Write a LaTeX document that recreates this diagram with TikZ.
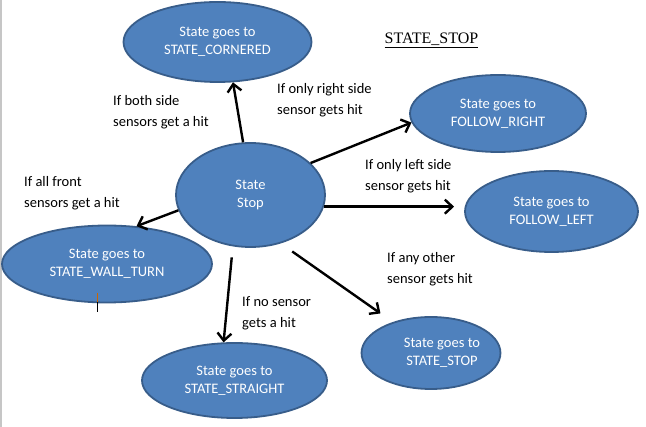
\documentclass[tikz,border=0pt]{standalone}
\usepackage{fontspec}
\setmainfont{Carlito}
\newfontfamily\titlefont{Liberation Serif}
\usetikzlibrary{shapes.geometric,arrows.meta}

\definecolor{stateblue}{HTML}{4F81BD}
\definecolor{stateedge}{HTML}{385D8A}

\begin{document}
\begin{tikzpicture}[x=1pt,y=-1pt,
    statenode/.style={ellipse, draw=stateedge, line width=1.8pt, fill=stateblue, text=white,
      inner sep=0pt, align=center, font=\fontsize{14.5}{18}\selectfont},
    cond/.style={anchor=west, align=left, inner sep=0pt, font=\fontsize{14.5}{21}\selectfont},
    hit/.style={line width=2.4pt, -{Straight Barb[length=7.5pt,width=14pt]}}]
  \useasboundingbox (0,0) rectangle (646,427);
  \draw[gray!45, line width=1.5pt] (0.75,0) -- (0.75,427);

  % states
  \node[statenode, minimum width=188pt, minimum height=80pt] (corner) at (217.5,42) {State goes to\\STATE\_CORNERED};
  \node[statenode, minimum width=149pt, minimum height=104pt] (stop) at (250.5,195) {State\\Stop};
  \node[statenode, minimum width=210pt, minimum height=77pt] (wall) at (107,264) {State goes to\\STATE\_WALL\_TURN};
  \node[statenode, minimum width=176pt, minimum height=77pt] (right) at (498,113.5) {State goes to\\FOLLOW\_RIGHT};
  \node[statenode, minimum width=173pt, minimum height=81pt] (left) at (551.5,211.5) {State goes to\\FOLLOW\_LEFT};
  \node[statenode, minimum width=185pt, minimum height=75pt] (straight) at (234.5,380.5) {State goes to\\STATE\_STRAIGHT};
  \node[statenode, minimum width=138pt, minimum height=72pt] (ststop) at (431,353) {\hspace*{22pt}State goes to\\\hspace*{22pt}STATE\_STOP};

  \node[font=\titlefont\fontsize{16}{18}\selectfont] (title) at (431.5,40) {\underline{STATE\_STOP}};

  % conditions
  \node[cond] (bothlbl) at (113,112) {If both side\\sensors get a hit};
  \node[cond] (rightlbl) at (277,100) {If only right side\\sensor gets hit};
  \node[cond] (frontlbl) at (24,193) {If all front\\sensors get a hit};
  \node[cond] (leftlbl) at (365,176) {If only left side\\sensor gets hit};
  \node[cond] (otherlbl) at (387,269) {If any other\\sensor gets hit};
  \node[cond] (nonelbl) at (242,313) {If no sensor\\gets a hit};

  % transitions
  \draw[hit] (stop.98) -- (corner.-69);
  \draw[hit] (stop.28) -- (right.186);
  \draw[hit, shorten >=10pt] (stop.-9.4) -- (stop.-9.4 -| left.west);
  \draw[hit] (stop.192.4) -- (wall.52);
  \draw[hit, shorten <=11pt] (stop.-109) -- (straight.106);
  \draw[hit, shorten <=14pt, shorten >=15pt] (stop.-58) -- (ststop.141);

  \draw[orange!80!black, line width=0.8pt] (97,293) -- (97,302);
  \draw[line width=0.8pt] (97,302) -- (97,312);
\end{tikzpicture}
\end{document}
